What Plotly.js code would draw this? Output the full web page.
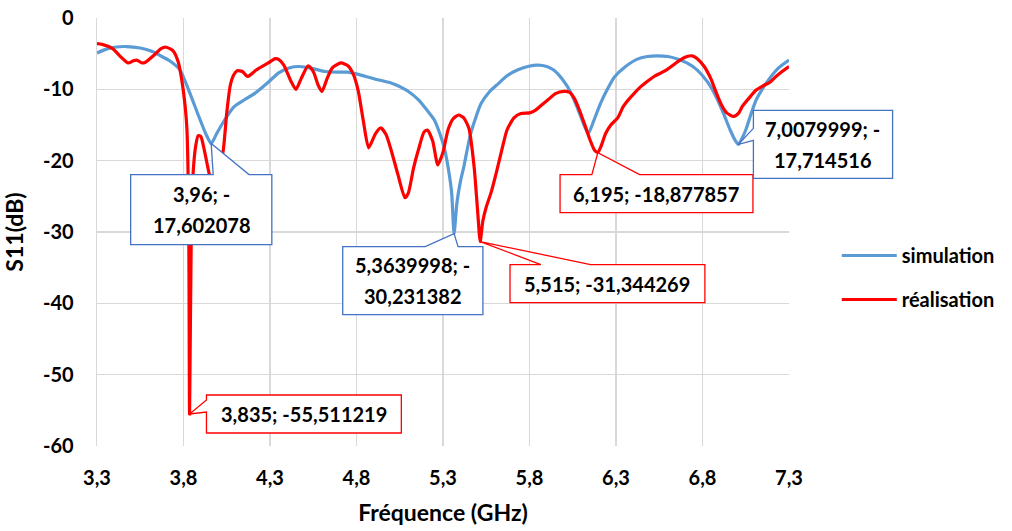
<!DOCTYPE html>
<html>
<head>
<meta charset="utf-8">
<script src="https://cdn.plot.ly/plotly-3.0.1.min.js"></script>
<style>html,body{margin:0;padding:0;background:#fff;}#chart{width:1012px;height:531px;}</style>
</head>
<body>
<div id="chart"></div>
<script>
// ---------- data ----------
const simFreq = [3.30,3.35,3.40,3.47,3.55,3.62,3.66,3.72,3.78,3.83,3.89,3.93,3.96,3.99,4.02,4.09,4.15,4.21,4.29,4.35,4.41,4.47,4.55,4.62,4.70,4.75,4.81,4.87,4.93,5.00,5.04,5.10,5.16,5.21,5.25,5.29,5.31,5.33,5.35,5.364,5.38,5.40,5.42,5.46,5.52,5.57,5.62,5.67,5.73,5.79,5.85,5.90,5.94,5.99,6.04,6.08,6.12,6.14,6.17,6.21,6.25,6.29,6.35,6.42,6.48,6.54,6.60,6.65,6.71,6.77,6.83,6.88,6.92,6.96,6.99,7.008,7.03,7.05,7.08,7.11,7.15,7.19,7.24,7.30];
const simS11 = [-4.9,-4.4,-4.1,-4.0,-4.2,-4.7,-5.2,-6.0,-7.3,-10.1,-13.9,-16.3,-17.602078,-16.3,-15.0,-12.5,-11.5,-10.6,-9.0,-7.7,-7.0,-6.8,-7.1,-7.5,-7.6,-7.6,-7.9,-8.3,-8.7,-9.1,-9.5,-10.3,-11.5,-13.0,-14.3,-16.8,-18.5,-21.0,-24.5,-30.231382,-26.0,-23.0,-20.9,-16.2,-12.0,-10.3,-9.2,-8.1,-7.3,-6.8,-6.6,-6.8,-7.3,-8.6,-10.5,-12.8,-15.3,-16.2,-14.5,-12.0,-10.0,-8.3,-6.9,-5.8,-5.4,-5.3,-5.4,-5.7,-6.3,-7.3,-9.0,-11.1,-13.3,-15.7,-17.2,-17.714516,-16.8,-15.7,-13.5,-11.5,-9.8,-8.4,-7.0,-5.9];

const realFreq = [3.30,3.33,3.39,3.44,3.48,3.51,3.53,3.56,3.58,3.63,3.67,3.70,3.74,3.77,3.79,3.81,3.82,3.83,3.835,3.845,3.855,3.87,3.885,3.90,3.92,3.95,3.975,4.00,4.03,4.05,4.07,4.09,4.11,4.14,4.17,4.20,4.22,4.26,4.29,4.33,4.35,4.38,4.42,4.45,4.48,4.52,4.55,4.58,4.60,4.63,4.66,4.71,4.75,4.78,4.81,4.84,4.87,4.91,4.94,4.97,5.00,5.04,5.08,5.10,5.13,5.16,5.19,5.21,5.24,5.27,5.30,5.33,5.36,5.39,5.42,5.45,5.48,5.50,5.515,5.53,5.55,5.58,5.61,5.64,5.67,5.71,5.75,5.80,5.83,5.87,5.91,5.95,6.00,6.03,6.06,6.09,6.12,6.15,6.175,6.195,6.215,6.24,6.27,6.31,6.34,6.36,6.40,6.44,6.48,6.52,6.56,6.59,6.63,6.67,6.71,6.74,6.77,6.81,6.85,6.88,6.91,6.94,6.98,7.01,7.03,7.07,7.11,7.15,7.19,7.22,7.26,7.30];
const realS11 = [-3.6,-3.7,-4.3,-5.5,-6.3,-6.0,-5.9,-6.3,-6.2,-5.2,-4.3,-4.1,-4.6,-6.2,-8.7,-12.5,-15.7,-28.0,-55.511219,-30.0,-22.0,-18.0,-16.5,-16.6,-18.5,-22.0,-24.0,-22.0,-18.5,-13.3,-9.5,-8.0,-7.4,-7.5,-8.2,-7.7,-7.3,-6.7,-6.3,-5.7,-5.8,-6.6,-8.8,-10.0,-8.5,-6.7,-7.5,-9.5,-10.3,-8.5,-7.0,-6.3,-6.7,-7.8,-10.2,-14.5,-18.2,-16.2,-15.4,-16.3,-18.5,-22.0,-25.2,-24.5,-21.0,-18.3,-16.0,-15.7,-17.2,-20.6,-18.8,-15.6,-14.1,-13.6,-14.0,-15.5,-20.9,-27.0,-31.344269,-28.5,-26.5,-24.3,-21.5,-18.5,-15.7,-14.0,-13.4,-13.3,-13.0,-12.2,-11.4,-10.6,-10.3,-10.4,-11.3,-13.0,-15.0,-17.1,-18.5,-18.877857,-17.9,-16.2,-15.0,-14.0,-12.5,-11.8,-10.7,-9.7,-8.9,-8.2,-7.7,-7.3,-6.6,-5.9,-5.4,-5.3,-5.7,-6.8,-8.6,-10.5,-12.2,-13.3,-13.8,-13.3,-12.4,-11.2,-10.1,-9.5,-9.0,-8.3,-7.5,-6.8];

const seriesNames = ["simulation", "réalisation"];
const xTickVals = [3.3,3.8,4.3,4.8,5.3,5.8,6.3,6.8,7.3];
const xTickText = ["3,3","3,8","4,3","4,8","5,3","5,8","6,3","6,8","7,3"];
const yTickVals = [0,-10,-20,-30,-40,-50,-60];
const yTickText = ["0","-10","-20","-30","-40","-50","-60"];

// data-label callouts: series, frequency of the marked point, text lines
const calloutSeries = ["sim","real","sim","real","real","sim"];
const calloutFreq = [3.96, 3.835, 5.364, 5.515, 6.195, 7.008];
const calloutText = [["3,96; -","17,602078"],["3,835; -55,511219"],["5,3639998; -","30,231382"],["5,515; -31,344269"],["6,195; -18,877857"],["7,0079999; -","17,714516"]];

// ---------- layout geometry (pixels) ----------
const W = 1012, H = 531;
const PL = 97, PR = 793, PT = 18, PB = 446;
const XR = [3.3, 7.3], YR = [-60, 0];
const kx = (PR - PL) / (XR[1] - XR[0]);
const ky = (PB - PT) / (YR[1] - YR[0]);
const x2p = v => PL + (v - XR[0]) * kx;
const y2p = v => PB - (v - YR[0]) * ky;
const p2px = p => (p - PL) / (PR - PL);   // pixel -> paper x
const p2py = p => (PB - p) / (PB - PT);   // pixel -> paper y

// callout box geometry relative to the marked point (px): box [dx1,dx2,dy1,dy2], wedge side and base
const calloutBox = [[-81,61,31,101],[17,213,-19,19],[-112,29,13,81],[30,226,23,61],[-38,156,22,60],[15,155,-34,34]];
const calloutWedge = [["top",2,38],["left",-14,-2],["top",-29,4],["top",61,111],["top",-6,42],["left",-16,-4]];

const BLUE = "#5b9bd5", RED = "#ff0000";
const BOXBLUE = "#4472c4";
const FONT = "Lato, 'Open Sans', sans-serif";
const TXT = {family: FONT, size: 20, color: "#000000", weight: "bold"};

const traces = [
  {x: simFreq, y: simS11, name: seriesNames[0], type: "scatter", mode: "lines",
   line: {color: BLUE, width: 3.2, shape: "spline", smoothing: 0.6}, legendgroup: "a"},
  {x: realFreq, y: realS11, name: seriesNames[1], type: "scatter", mode: "lines",
   line: {color: RED, width: 3.2, shape: "spline", smoothing: 0.6}, legendgroup: "b"}
];

const shapes = [], annotations = [];
calloutFreq.forEach((f, i) => {
  const isSim = calloutSeries[i] === "sim";
  const fx = isSim ? simFreq : realFreq;
  const fy = isSim ? simS11 : realS11;
  const j = fx.indexOf(f);
  const px = x2p(fx[j]), py = y2p(fy[j]);
  const [dx1, dx2, dy1, dy2] = calloutBox[i];
  const L = px + dx1, R = px + dx2, T = py + dy1, B = py + dy2;
  const w = calloutWedge[i];
  let pts;
  if (w[0] === "top") {
    pts = [[L,T],[px+w[1],T],[px,py],[px+w[2],T],[R,T],[R,B],[L,B]];
  } else {
    pts = [[L,T],[R,T],[R,B],[L,B],[L,py+w[2]],[px,py],[L,py+w[1]]];
  }
  const path = pts.map((p, k) => (k ? "L" : "M") + p2px(p[0]) + "," + p2py(p[1])).join(" ") + " Z";
  shapes.push({type: "path", xref: "paper", yref: "paper", path: path, fillcolor: "#ffffff",
    line: {color: isSim ? BOXBLUE : RED, width: 1.3}, layer: "above"});
  const lines = calloutText[i];
  const cx = (L + R) / 2, cy = (T + B) / 2;
  const gap = 31;
  lines.forEach((t, k) => {
    const ly = cy + (k - (lines.length - 1) / 2) * gap;
    annotations.push({x: p2px(cx), y: p2py(ly), xref: "paper", yref: "paper", text: t, showarrow: false,
      xanchor: "center", yanchor: "middle", font: TXT});
  });
});

const layout = {
  width: W, height: H,
  margin: {l: PL, r: W - PR, t: PT, b: H - PB, pad: 0},
  paper_bgcolor: "#ffffff", plot_bgcolor: "#ffffff",
  separators: ", ",
  font: TXT,
  xaxis: {range: XR, tickvals: xTickVals, ticktext: xTickText, showgrid: true, gridcolor: "#d9d9d9", gridwidth: 1.3,
    zeroline: false, showline: false, ticks: "", ticklabelstandoff: 18,
    tickfont: TXT,
    title: {text: "Fréquence (GHz)", font: {family: FONT, size: 23, color: "#000", weight: "bold"}, standoff: 16},
    automargin: false},
  yaxis: {range: YR, tickvals: yTickVals, ticktext: yTickText, showgrid: true, gridcolor: "#d9d9d9", gridwidth: 1.3,
    zeroline: false, showline: true, linecolor: "#d9d9d9", linewidth: 1.3, ticks: "", ticklabelstandoff: 18,
    tickfont: TXT,
    title: {text: "S11(dB)", font: {family: FONT, size: 23, color: "#000", weight: "bold"}, standoff: 14},
    automargin: false},
  showlegend: true,
  legend: {x: (848 - PL) / (PR - PL) - 0.01, xanchor: "left", y: (PB - 236) / (PB - PT), yanchor: "top",
    bgcolor: "rgba(0,0,0,0)", borderwidth: 0, traceorder: "grouped", tracegroupgap: 15, itemwidth: 55,
    font: TXT},
  shapes: shapes,
  annotations: annotations
};

Plotly.newPlot("chart", traces, layout, {displayModeBar: false, staticPlot: true});
</script>
</body>
</html>
